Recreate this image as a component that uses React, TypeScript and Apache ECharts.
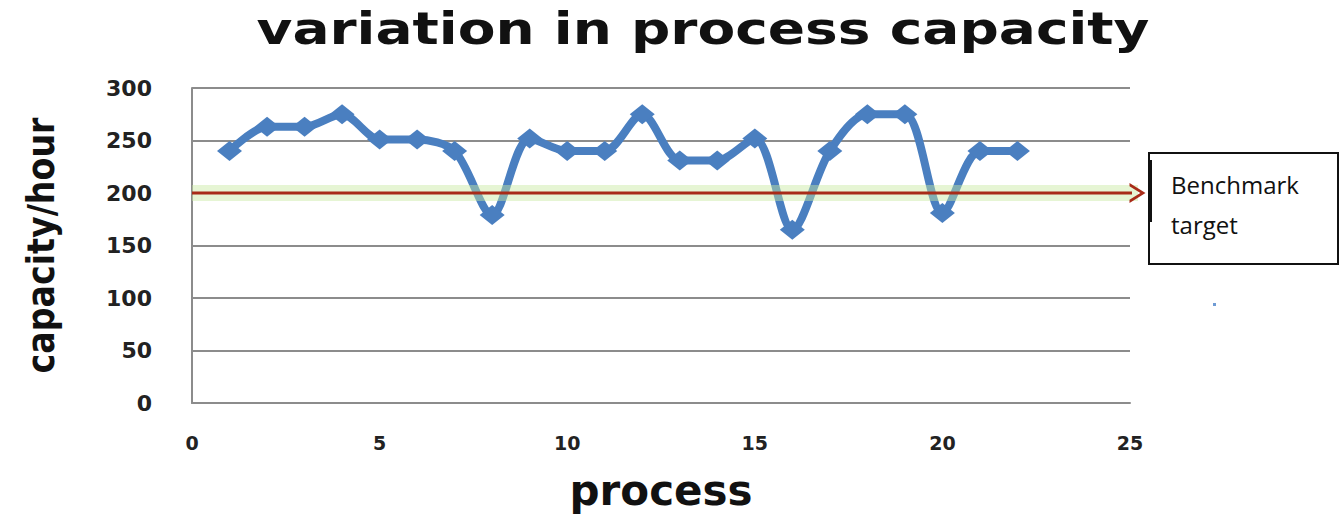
import React, { useEffect, useRef } from "react";
import * as echarts from "echarts";

const processNo = [1, 2, 3, 4, 5, 6, 7, 8, 9, 10, 11, 12, 13, 14, 15, 16, 17, 18, 19, 20, 21, 22];
const capacity = [240, 263, 263, 275, 251, 251, 240, 179, 252, 240, 240, 275, 231, 231, 252, 165, 240, 275, 275, 181, 240, 240];
const benchmark = 200;
const xMin = 0;
const xMax = 25;
const xStep = 5;
const yMin = 0;
const yMax = 300;
const yStep = 50;
const benchmarkEnd = 25.2;

const titleText = "variation in process capacity";
const xName = "process";
const yName = "capacity/hour";
const boxLines = ["Benchmark", "target"];

export default function App() {
  const ref = useRef<HTMLDivElement>(null);
  useEffect(() => {
    if (!ref.current) return;
    const chart = echarts.init(ref.current, null, { renderer: "svg" });
    const points = processNo.map((x, i) => [x, capacity[i]]);
    const chevron = "path://M0,10 L5,0 L10,10 L8.4,10 L5,3.2 L1.6,10 Z";
    chart.setOption({
      animation: false,
      backgroundColor: "#ffffff",
      grid: { left: 192, right: 211, top: 88, bottom: 109, containLabel: false },
      xAxis: {
        type: "value",
        min: xMin,
        max: xMax,
        interval: xStep,
        name: xName,
        nameLocation: "middle",
        nameGap: 66,
        nameTextStyle: { fontFamily: "DejaVu Sans", fontWeight: "bold", fontSize: 42, color: "#111" },
        axisLine: { show: true, lineStyle: { color: "#8c8c8c", width: 2 } },
        axisTick: { show: false },
        splitLine: { show: false },
        axisLabel: { margin: 30, fontFamily: "DejaVu Sans", fontWeight: "bold", fontSize: 19, color: "#222" },
      },
      yAxis: {
        type: "value",
        min: yMin,
        max: yMax,
        interval: yStep,
        name: yName,
        nameLocation: "middle",
        nameGap: 132,
        nameTextStyle: { fontFamily: "DejaVu Sans Condensed", fontWeight: "bold", fontSize: 37, color: "#111" },
        axisLine: { show: true, lineStyle: { color: "#8c8c8c", width: 2 } },
        axisTick: { show: false },
        splitLine: { show: true, lineStyle: { color: "#8c8c8c", width: 2 } },
        axisLabel: { margin: 40, fontFamily: "DejaVu Sans", fontWeight: "bold", fontSize: 22, color: "#222" },
      },
      series: [
        {
          name: "capacity",
          type: "line",
          data: points,
          smooth: 0.3,
          z: 3,
          symbol: "diamond",
          symbolSize: [25, 20],
          lineStyle: { color: "#4a7fc0", width: 8 },
          itemStyle: { color: "#4a7fc0" },
        },
        {
          name: "glow",
          type: "line",
          clip: false,
          z: 4,
          silent: true,
          symbol: "none",
          lineStyle: { color: "rgba(200,232,160,0.45)", width: 16 },
          data: [
            [xMin, benchmark],
            [benchmarkEnd + 0.12, benchmark],
          ],
        },
        {
          name: "benchmark",
          type: "line",
          clip: false,
          z: 5,
          silent: true,
          lineStyle: { color: "#a82b18", width: 3 },
          itemStyle: { color: "#a82b18" },
          data: [
            { value: [xMin, benchmark], symbol: "none" },
            { value: [benchmarkEnd, benchmark], symbol: chevron, symbolSize: [20, 16], symbolRotate: -90 },
          ],
        },
      ],
      graphic: [
        {
          type: "text",
          x: 703,
          y: 29,
          scaleX: 1.25,
          style: {
            text: titleText,
            font: 'bold 44px "DejaVu Sans"',
            fill: "#111",
            textAlign: "center",
            textVerticalAlign: "middle",
          },
        },
        {
          type: "rect",
          shape: { x: 1149, y: 153, width: 189, height: 111 },
          style: { fill: "#ffffff", stroke: "#111", lineWidth: 2 },
          z: 10,
        },
        {
          type: "line",
          shape: { x1: 1151, y1: 160, x2: 1151, y2: 222 },
          style: { stroke: "#111", lineWidth: 2 },
          z: 11,
        },
        {
          type: "text",
          x: 1171,
          y: 184,
          z: 11,
          style: {
            text: boxLines[0],
            font: '24px "Open Sans"',
            fill: "#111",
            textAlign: "left",
            textVerticalAlign: "middle",
          },
        },
        {
          type: "text",
          x: 1171,
          y: 224,
          z: 11,
          style: {
            text: boxLines[1],
            font: '24px "Open Sans"',
            fill: "#111",
            textAlign: "left",
            textVerticalAlign: "middle",
          },
        },
        {
          type: "rect",
          shape: { x: 1213, y: 303, width: 3, height: 3 },
          style: { fill: "#6f9bd4" },
        },
      ],
    });
    return () => chart.dispose();
  }, []);
  return <div ref={ref} style={{ width: 1341, height: 516, position: "absolute", left: 0, top: 0 }} />;
}
